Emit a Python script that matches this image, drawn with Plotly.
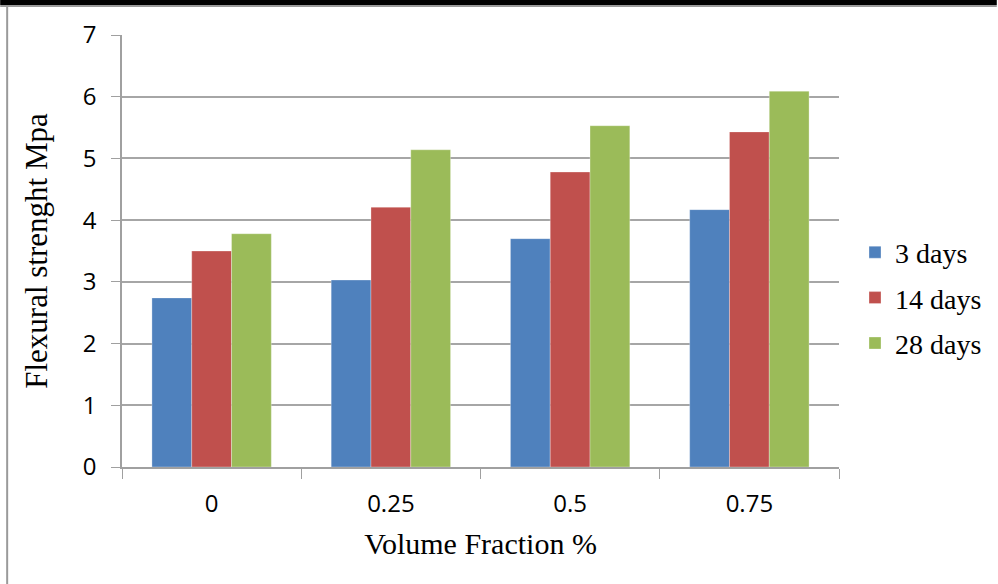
import plotly.graph_objects as go

categories = ["0", "0.25", "0.5", "0.75"]
days3 = [2.74, 3.03, 3.70, 4.17]
days14 = [3.50, 4.21, 4.78, 5.43]
days28 = [3.78, 5.14, 5.53, 6.09]
series_names = ["3 days", "14 days", "28 days"]
colors = ["#4F81BD", "#C0504D", "#9BBB59"]

W, H = 998, 584
L, R, T, B = 122, 158, 35, 117
pw, ph = W - L - R, H - T - B

fig = go.Figure()
for i, (name, vals, c) in enumerate(zip(series_names, [days3, days14, days28], colors)):
    fig.add_trace(go.Bar(x=categories, y=vals, name=name,
                         marker=dict(color=c, line=dict(color="rgba(255,255,255,0.6)", width=0.5)),
                         legendgroup=f"g{i}"))

def px_x(p):
    return (p - L) / pw
def px_y(p):
    return (H - B - p) / ph

shapes = [
    dict(type="rect", xref="paper", yref="paper", x0=px_x(0), x1=px_x(W), y0=px_y(5), y1=px_y(0),
         fillcolor="black", line=dict(width=0), layer="above"),
    dict(type="rect", xref="paper", yref="paper", x0=px_x(0), x1=px_x(W), y0=px_y(7), y1=px_y(5),
         fillcolor="#9a9a9a", line=dict(width=0), layer="above"),
    dict(type="rect", xref="paper", yref="paper", x0=px_x(6), x1=px_x(8), y0=px_y(H), y1=px_y(7),
         fillcolor="#9a9a9a", line=dict(width=0), layer="above"),
]

fig.update_layout(
    width=W, height=H,
    margin=dict(l=L, r=R, t=T, b=B, pad=0),
    paper_bgcolor="white", plot_bgcolor="white",
    barmode="group", bargap=0.334, bargroupgap=0,
    shapes=shapes,
    legend=dict(x=px_x(855), y=px_y(298), xanchor="left", yanchor="middle",
                font=dict(family="Liberation Serif", size=28, color="black"),
                tracegroupgap=6, itemwidth=30, bgcolor="rgba(0,0,0,0)"),
    xaxis=dict(type="category", tickson="boundaries", ticks="outside", ticklen=10, tickcolor="#a0a0a0",
               showline=True, linecolor="#a0a0a0", linewidth=1.5, showgrid=False,
               tickfont=dict(family="Open Sans", size=24, color="black"), ticklabelstandoff=14,
               title=dict(text="Volume Fraction %", font=dict(family="Liberation Serif", size=30, color="black"), standoff=15)),
    yaxis=dict(range=[0, 7], dtick=1, ticks="outside", ticklen=9, tickcolor="#a0a0a0",
               showline=True, linecolor="#a0a0a0", linewidth=1.5,
               showgrid=True, gridcolor="#a6a6a6", gridwidth=1.5, zeroline=False,
               tickfont=dict(family="Open Sans", size=24, color="black"), ticklabelstandoff=10,
               title=dict(text="Flexural strenght Mpa", font=dict(family="Liberation Serif", size=31, color="black"), standoff=26)),
)

fig.write_html("out.html", config={"displayModeBar": False},
               post_script="document.body.style.margin='0';")
